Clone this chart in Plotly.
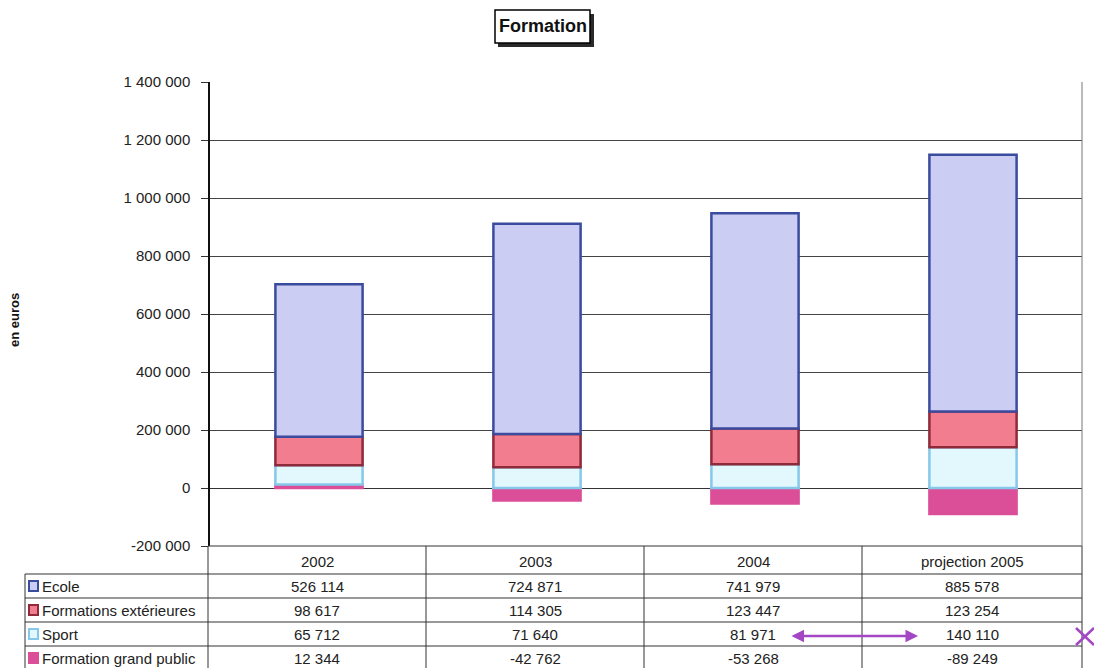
import plotly.graph_objects as go

# --- data -------------------------------------------------------------
categories = ["2002", "2003", "2004", "projection 2005"]
ecole = [526114, 724871, 741979, 885578]
formations_ext = [98617, 114305, 123447, 123254]
sport = [65712, 71640, 81971, 140110]
grand_public = [12344, -42762, -53268, -89249]

series_names = ["Ecole", "Formations extérieures", "Sport", "Formation grand public"]
y_ticks = [-200000, 0, 200000, 400000, 600000, 800000, 1000000, 1200000, 1400000]

# --- styling ----------------------------------------------------------
FONT = "Arial, 'Liberation Sans', sans-serif"
TXT = 15
W, H = 1094, 668
L, R, T, B = 210, 12, 82, 122
PW, PH = W - L - R, H - T - B
PEN = "#a447c4"

styles = {
    "Ecole": dict(fill="#cbcdf2", line="#3b4b9e"),
    "Formations extérieures": dict(fill="#f27d8f", line="#8e2a3a"),
    "Sport": dict(fill="#e2f8fc", line="#86c8ea"),
    "Formation grand public": dict(fill="#db4f98", line="#db4f98"),
}


def px(x):
    """pixel column -> paper x"""
    return (x - L) / PW


def py(y):
    """pixel row -> paper y"""
    return (H - B - y) / PH


def fmt(v):
    return f"{v:,}".replace(",", " ")


fig = go.Figure()

# Stacking order: grand public at the base, then sport, extérieures, école
values = {
    "Ecole": ecole,
    "Formations extérieures": formations_ext,
    "Sport": sport,
    "Formation grand public": grand_public,
}
for name in ["Formation grand public", "Sport", "Formations extérieures", "Ecole"]:
    st = styles[name]
    fig.add_trace(go.Bar(
        x=categories, y=values[name], name=name,
        width=0.4,
        marker=dict(color=st["fill"], line=dict(color=st["line"], width=2.5)),
        showlegend=False,
    ))

shapes = []
annotations = []

# title box with drop shadow
shapes.append(dict(type="rect", xref="paper", yref="paper",
                   x0=px(498), x1=px(594), y0=py(47), y1=py(14),
                   fillcolor="#2a2a2a", line=dict(width=0), layer="above"))
shapes.append(dict(type="rect", xref="paper", yref="paper",
                   x0=px(495), x1=px(590), y0=py(43), y1=py(10),
                   fillcolor="white", line=dict(color="black", width=1.5), layer="above"))
annotations.append(dict(xref="paper", yref="paper", x=px(542.5), y=py(26.5),
                        text="<b>Formation</b>", showarrow=False,
                        font=dict(family=FONT, size=18, color="#111"),
                        xanchor="center", yanchor="middle"))

# y axis title
annotations.append(dict(xref="paper", yref="paper", x=px(14), y=py(320),
                        text="<b>en euros</b>", textangle=-90, showarrow=False,
                        font=dict(family=FONT, size=13, color="#111"),
                        xanchor="center", yanchor="middle"))

# --- data table under the plot ---------------------------------------
col_edges = [208, 426, 644, 862, 1082]
row_edges = [546, 574, 598, 622, 646, 670]
line_style = dict(color="#333", width=1)

# horizontal lines
shapes.append(dict(type="line", xref="paper", yref="paper",
                   x0=px(208), x1=px(1082), y0=py(546), y1=py(546), line=line_style))
for yv in row_edges[1:]:
    shapes.append(dict(type="line", xref="paper", yref="paper",
                       x0=px(25), x1=px(1082), y0=py(yv), y1=py(yv), line=line_style))
# vertical lines
shapes.append(dict(type="line", xref="paper", yref="paper",
                   x0=px(25), x1=px(25), y0=py(574), y1=py(670), line=line_style))
for xv in col_edges:
    shapes.append(dict(type="line", xref="paper", yref="paper",
                       x0=px(xv), x1=px(xv), y0=py(546), y1=py(670), line=line_style))

# header: category names
for i, cat in enumerate(categories):
    cx = (col_edges[i] + col_edges[i + 1]) / 2
    annotations.append(dict(xref="paper", yref="paper", x=px(cx), y=py(561),
                            text=cat, showarrow=False,
                            font=dict(family=FONT, size=TXT, color="#222"),
                            xanchor="center", yanchor="middle"))

# rows: legend key, label and values
for r, name in enumerate(series_names):
    y_top, y_bot = row_edges[r + 1], row_edges[r + 2]
    cy = (y_top + y_bot) / 2
    st = styles[name]
    shapes.append(dict(type="rect", xref="paper", yref="paper",
                       x0=px(29), x1=px(38), y0=py(cy + 5), y1=py(cy - 5),
                       fillcolor=st["fill"], line=dict(color=st["line"], width=2)))
    annotations.append(dict(xref="paper", yref="paper", x=px(40), y=py(cy),
                            text=name, showarrow=False,
                            font=dict(family=FONT, size=TXT, color="#222"),
                            xanchor="left", yanchor="middle"))
    for i, v in enumerate(values[name]):
        cx = (col_edges[i] + col_edges[i + 1]) / 2
        annotations.append(dict(xref="paper", yref="paper", x=px(cx), y=py(cy),
                                text=fmt(v), showarrow=False,
                                font=dict(family=FONT, size=TXT, color="#222"),
                                xanchor="center", yanchor="middle"))

# pen marks: double arrow between the sport values and a cross in the margin
annotations.append(dict(xref="paper", yref="paper", x=px(918), y=py(636),
                        ax=-128, ay=0,
                        text="", showarrow=True, arrowhead=2, startarrowhead=2,
                        arrowside="end+start", arrowwidth=2.5, arrowcolor=PEN,
                        arrowsize=1))
for (xa, ya, xb, yb) in [(1076, 628, 1094, 645), (1076, 645, 1094, 628)]:
    shapes.append(dict(type="line", xref="paper", yref="paper",
                       x0=px(xa), y0=py(ya), x1=px(xb), y1=py(yb),
                       line=dict(color=PEN, width=2.5)))

fig.update_layout(
    width=W, height=H, autosize=False,
    margin=dict(l=L, r=R, t=T, b=B),
    paper_bgcolor="white", plot_bgcolor="white",
    barmode="relative", bargap=0.6,
    separators=", ",
    font=dict(family=FONT, size=TXT, color="#222"),
    xaxis=dict(range=[-0.5, 3.5], showticklabels=False, showgrid=False,
               zeroline=False, showline=False, ticks=""),
    yaxis=dict(range=[-200000, 1400000], tickvals=y_ticks,
               ticktext=[fmt(v) for v in y_ticks],
               showgrid=True, gridcolor="#444", gridwidth=1,
               zeroline=True, zerolinecolor="#333", zerolinewidth=1,
               showline=True, linecolor="#111", linewidth=1.5,
               ticks="outside", ticklen=7, tickcolor="#333",
               ticklabelstandoff=8,
               tickfont=dict(family=FONT, size=TXT, color="#222")),
    shapes=shapes,
    annotations=annotations,
)

# right-hand border of the plot area
fig.add_shape(type="line", xref="paper", yref="paper", x0=1, x1=1, y0=0, y1=1,
              line=dict(color="#777", width=1))

fig.write_html("out.html")
